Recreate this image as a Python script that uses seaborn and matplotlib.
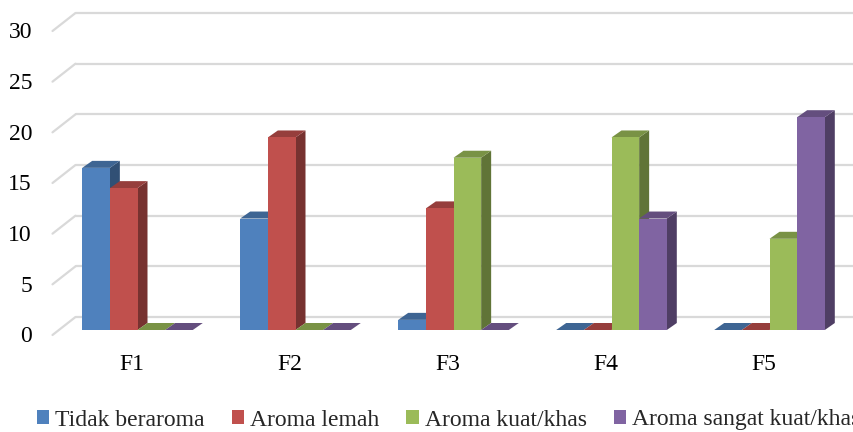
import numpy as np
import pandas as pd
import matplotlib
matplotlib.use('Agg')
import matplotlib.pyplot as plt
import matplotlib.colors as mcolors
from matplotlib.patches import Polygon, Patch
import seaborn as sns

# --- data ---
categories = ['F1', 'F2', 'F3', 'F4', 'F5']
series = ['Tidak beraroma', 'Aroma lemah', 'Aroma kuat/khas', 'Aroma sangat kuat/khas']
tidak_beraroma = [16, 11, 1, 0, 0]
aroma_lemah = [14, 19, 12, 0, 0]
aroma_kuat = [0, 0, 17, 19, 9]
aroma_sangat_kuat = [0, 0, 0, 11, 21]
y_ticks = [0, 5, 10, 15, 20, 25, 30]

colors = ['#4F81BD', '#C0504D', '#9BBB59', '#8064A2']

rows = []
for name, vals in zip(series, [tidak_beraroma, aroma_lemah, aroma_kuat, aroma_sangat_kuat]):
    for cat, v in zip(categories, vals):
        rows.append({'Sampel': cat, 'Aroma': name, 'Jumlah': v})
df = pd.DataFrame(rows)

# --- geometry (pixels) ---
W, H = 854, 432
PX_X = 158.0      # pixels per category
PX_Y = 304 / 30   # pixels per unit
depth = (10 / PX_X, 7 / PX_Y)        # bar depth
wall = (17 / PX_X, 13 / PX_Y)        # back wall offset
front = (-6 / PX_X, -5 / PX_Y)       # label plane offset

sns.set_style('white')
plt.rcParams['font.family'] = ['Liberation Serif', 'DejaVu Serif']
FS = 17

fig = plt.figure(figsize=(W / 100, H / 100), dpi=100)
ax = fig.add_axes([58.5 / W, 102 / H, 790 / W, 304 / H])

sns.barplot(data=df, x='Sampel', y='Jumlah', hue='Aroma', hue_order=series,
            palette=colors, width=0.7, ax=ax, legend=False, linewidth=0,
            saturation=1)

ax.set_xlim(-0.5, 4.5)
ax.set_ylim(0, 30)
for s in ax.spines.values():
    s.set_visible(False)
ax.tick_params(left=False, bottom=False, labelleft=False, labelbottom=False)
ax.set_xlabel('')
ax.set_ylabel('')

# gridlines on back wall + diagonal to front plane
grid_c = '#D9D9D9'
for v in y_ticks:
    ax.plot([-0.5 + wall[0], 5.5], [v + wall[1], v + wall[1]], color=grid_c,
            lw=1.6, zorder=0, clip_on=False)
    ax.plot([-0.5 + front[0], -0.5 + wall[0]], [v + front[1], v + wall[1]],
            color=grid_c, lw=1.6, zorder=0, clip_on=False)
    ax.text((32 - 58.5) / 790, v - 7 / PX_Y, str(v), transform=ax.get_yaxis_transform(),
            ha='right', va='center', fontsize=FS, color='black')

for i, cat in enumerate(categories):
    ax.text(i + front[0], -34 / PX_Y, cat, ha='center', va='center',
            fontsize=FS, color='black', clip_on=False)

# 3D faces
def shade(c, f):
    r, g, b = mcolors.to_rgb(c)
    return (r * f, g * f, b * f)

bars = sorted(ax.patches, key=lambda p: p.get_x())
for k, p in enumerate(bars):
    x0, y0 = p.get_x(), p.get_y()
    x1, y1 = x0 + p.get_width(), y0 + p.get_height()
    fc = p.get_facecolor()
    dx, dy = depth
    top = Polygon([(x0, y1), (x1, y1), (x1 + dx, y1 + dy), (x0 + dx, y1 + dy)],
                  closed=True, facecolor=shade(fc, 0.78), edgecolor='none',
                  zorder=10 + 2 * k, clip_on=False)
    side = Polygon([(x1, y0), (x1, y1), (x1 + dx, y1 + dy), (x1 + dx, y0 + dy)],
                   closed=True, facecolor=shade(fc, 0.62), edgecolor='none',
                   zorder=10 + 2 * k, clip_on=False)
    ax.add_patch(side)
    ax.add_patch(top)
    p.set_zorder(10 + 2 * k + 1)

handles = [Patch(facecolor=c, edgecolor='none') for c in colors]
fig.legend(handles, series, loc='center left', bbox_to_anchor=(37 / W, 12 / H),
           ncol=4, frameon=False, fontsize=FS, borderpad=0, borderaxespad=0,
           handlelength=0.52, handleheight=0.52, handletextpad=0.25,
           columnspacing=1.15)

fig.savefig('out.png', dpi=100)
